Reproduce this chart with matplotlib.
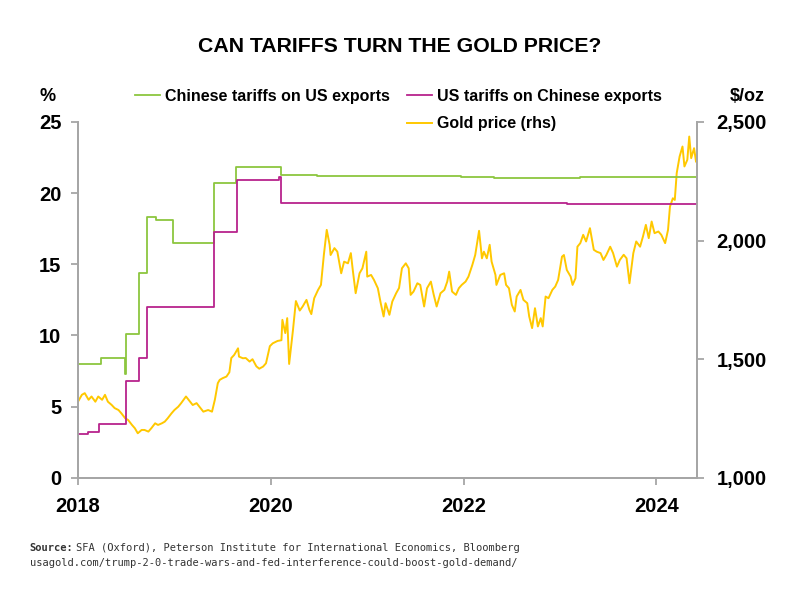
import numpy as np
import matplotlib
matplotlib.use("Agg")
import matplotlib.pyplot as plt
from matplotlib.ticker import FuncFormatter

# ---- data (decimal years) ----
cn_t = [2018.0, 2018.24, 2018.49, 2018.50, 2018.63, 2018.72, 2018.81, 2018.99,
        2019.41, 2019.64, 2020.11, 2020.48, 2021.97, 2022.31, 2022.98, 2023.21, 2024.42]
cn_tariff = [8.0, 8.4, 7.3, 10.1, 14.4, 18.3, 18.1, 16.5,
             20.7, 21.8, 21.25, 21.2, 21.15, 21.05, 21.05, 21.1, 21.1]

us_t = [2018.0, 2018.10, 2018.22, 2018.50, 2018.63, 2018.72, 2019.41, 2019.65,
        2020.09, 2020.11, 2023.07, 2024.42]
us_tariff = [3.1, 3.2, 3.8, 6.8, 8.4, 12.0, 17.3, 20.9,
             21.1, 19.3, 19.25, 19.25]

gold_t = [2018.00, 2018.04, 2018.07, 2018.11, 2018.14, 2018.18, 2018.21, 2018.25,
          2018.28, 2018.31, 2018.35, 2018.38, 2018.42, 2018.45, 2018.49, 2018.52,
          2018.56, 2018.59, 2018.62, 2018.66, 2018.69, 2018.73, 2018.76, 2018.80,
          2018.83, 2018.87, 2018.90, 2018.93, 2018.97, 2019.00, 2019.04, 2019.07,
          2019.12, 2019.19, 2019.23, 2019.30, 2019.35, 2019.39, 2019.42, 2019.45,
          2019.47, 2019.50, 2019.54, 2019.57, 2019.59, 2019.62, 2019.66, 2019.67,
          2019.71, 2019.74, 2019.78, 2019.81, 2019.85, 2019.88, 2019.92, 2019.95,
          2019.99, 2020.02, 2020.07, 2020.11, 2020.12, 2020.15, 2020.17, 2020.19,
          2020.23, 2020.26, 2020.30, 2020.33, 2020.37, 2020.40, 2020.42, 2020.45,
          2020.49, 2020.52, 2020.55, 2020.58, 2020.61, 2020.62, 2020.66, 2020.69,
          2020.73, 2020.76, 2020.80, 2020.83, 2020.85, 2020.88, 2020.92, 2020.95,
          2020.99, 2021.00, 2021.04, 2021.07, 2021.11, 2021.14, 2021.17, 2021.19,
          2021.23, 2021.26, 2021.30, 2021.33, 2021.36, 2021.40, 2021.43, 2021.45,
          2021.48, 2021.52, 2021.55, 2021.59, 2021.62, 2021.66, 2021.69, 2021.72,
          2021.76, 2021.80, 2021.83, 2021.85, 2021.88, 2021.92, 2021.95, 2021.98,
          2022.02, 2022.05, 2022.09, 2022.12, 2022.16, 2022.19, 2022.21, 2022.24,
          2022.27, 2022.29, 2022.33, 2022.34, 2022.38, 2022.42, 2022.44, 2022.47,
          2022.50, 2022.53, 2022.55, 2022.59, 2022.62, 2022.66, 2022.68, 2022.71,
          2022.74, 2022.77, 2022.80, 2022.82, 2022.85, 2022.88, 2022.92, 2022.95,
          2022.98, 2023.02, 2023.04, 2023.07, 2023.11, 2023.13, 2023.16, 2023.18,
          2023.21, 2023.24, 2023.27, 2023.31, 2023.35, 2023.38, 2023.42, 2023.45,
          2023.48, 2023.52, 2023.55, 2023.59, 2023.62, 2023.66, 2023.69, 2023.72,
          2023.76, 2023.79, 2023.83, 2023.86, 2023.89, 2023.92, 2023.95, 2023.98,
          2024.02, 2024.05, 2024.09, 2024.12, 2024.14, 2024.17, 2024.19, 2024.21,
          2024.24, 2024.27, 2024.29, 2024.32, 2024.34, 2024.36, 2024.39, 2024.41]
gold_usd = [1321, 1350, 1357, 1329, 1343, 1321, 1343, 1329,
            1350, 1321, 1307, 1294, 1286, 1272, 1251, 1244,
            1223, 1209, 1188, 1202, 1202, 1195, 1209, 1230,
            1223, 1230, 1237, 1251, 1272, 1286, 1300, 1315,
            1343, 1307, 1315, 1279, 1286, 1279, 1330, 1399,
            1413, 1420, 1427, 1445, 1505, 1518, 1546, 1511,
            1504, 1505, 1490, 1500, 1470, 1460, 1469, 1483,
            1555, 1567, 1577, 1580, 1666, 1610, 1673, 1480,
            1624, 1745, 1705, 1722, 1750, 1708, 1690, 1757,
            1792, 1813, 1939, 2045, 1982, 1939, 1968, 1953,
            1862, 1911, 1904, 1947, 1876, 1778, 1862, 1883,
            1953, 1848, 1855, 1834, 1799, 1736, 1680, 1736,
            1687, 1743, 1778, 1800, 1883, 1904, 1883, 1771,
            1785, 1820, 1813, 1722, 1799, 1827, 1771, 1722,
            1778, 1792, 1827, 1869, 1785, 1771, 1799, 1813,
            1827, 1848, 1897, 1939, 2041, 1925, 1953, 1925,
            1982, 1911, 1855, 1813, 1855, 1862, 1813, 1799,
            1729, 1701, 1764, 1792, 1750, 1736, 1680, 1631,
            1715, 1638, 1673, 1638, 1764, 1757, 1792, 1806,
            1834, 1932, 1939, 1876, 1848, 1813, 1841, 1974,
            1989, 2024, 1996, 2052, 1961, 1953, 1947, 1918,
            1939, 1974, 1947, 1890, 1918, 1940, 1925, 1820,
            1947, 1996, 1974, 2017, 2066, 2010, 2080, 2031,
            2038, 2024, 1989, 2045, 2143, 2178, 2171, 2284,
            2354, 2396, 2312, 2340, 2438, 2347, 2389, 2333]

year_ticks = [2018, 2020, 2022, 2024]
pct_ticks = [0, 5, 10, 15, 20, 25]
usd_ticks = [1000, 1500, 2000, 2500]

GREEN = "#8cc63f"
MAGENTA = "#b8238c"
GOLD = "#ffc800"
SPINE = "#a6a6a6"

plt.rcParams['font.family'] = ['Liberation Sans', 'DejaVu Sans']

fig = plt.figure(figsize=(8, 5.9), dpi=100)
ax = fig.add_axes([0.0975, 0.19, 0.7737, 0.6035])
ax2 = ax.twinx()

ax2.plot(gold_t, gold_usd, color=GOLD, lw=1.4, label="Gold price (rhs)")
l_cn, = ax.plot(cn_t, cn_tariff, color=GREEN, lw=1.3, drawstyle="steps-post",
                label="Chinese tariffs on US exports")
l_us, = ax.plot(us_t, us_tariff, color=MAGENTA, lw=1.3, drawstyle="steps-post",
                label="US tariffs on Chinese exports")
ax.set_zorder(ax2.get_zorder() + 1)
ax.patch.set_visible(False)

ax.set_xlim(2018, 2024.42)
ax.set_ylim(0, 25)
ax2.set_ylim(1000, 2500)
ax.set_xticks(year_ticks)
ax.set_yticks(pct_ticks)
ax2.set_yticks(usd_ticks)
ax2.yaxis.set_major_formatter(FuncFormatter(lambda v, p: f"{v:,.0f}"))

for a in (ax, ax2):
    for s in a.spines.values():
        s.set_color(SPINE)
        s.set_linewidth(1.3)
    a.spines['top'].set_visible(False)
ax.tick_params(axis='both', colors=SPINE, length=5, width=1.3, labelcolor='black',
               labelsize=14.5)
ax.tick_params(axis='y', pad=7)
ax.tick_params(axis='x', pad=9)
ax2.tick_params(axis='y', colors=SPINE, length=5, width=1.3, labelcolor='black',
                labelsize=14.5, pad=9)
for lab in ax.get_xticklabels() + ax.get_yticklabels() + ax2.get_yticklabels():
    lab.set_fontweight('bold')

fig.text(0.5, 0.922, "CAN TARIFFS TURN THE GOLD PRICE?", ha='center', va='center',
         fontsize=15.3, fontweight='bold')
fig.text(0.06, 0.836, "%", ha='center', va='center', fontsize=13, fontweight='bold')
fig.text(0.934, 0.836, "$/oz", ha='center', va='center', fontsize=13, fontweight='bold')

l_gold = ax2.get_lines()[0]
fig.legend(handles=[l_cn], loc='upper left', bbox_to_anchor=(0.169, 0.85),
           frameon=False, prop={'weight': 'bold', 'size': 11.5},
           handlelength=1.55, handletextpad=0.3, borderaxespad=0, borderpad=0)
fig.legend(handles=[l_us, l_gold], loc='upper left', bbox_to_anchor=(0.509, 0.85),
           frameon=False, prop={'weight': 'bold', 'size': 11.5},
           handlelength=1.55, handletextpad=0.3, labelspacing=0.8,
           borderaxespad=0, borderpad=0)

fig.text(0.037, 0.071, "Source:", fontsize=7.5, fontweight='bold',
         family='DejaVu Sans Mono', color='#333333', va='center')
fig.text(0.037 + 0.058, 0.071,
         "SFA (Oxford), Peterson Institute for International Economics, Bloomberg",
         fontsize=7.5, family='DejaVu Sans Mono', color='#333333', va='center')
fig.text(0.037, 0.046,
         "usagold.com/trump-2-0-trade-wars-and-fed-interference-could-boost-gold-demand/",
         fontsize=7.5, family='DejaVu Sans Mono', color='#333333', va='center')

fig.savefig("out.png", dpi=100)
